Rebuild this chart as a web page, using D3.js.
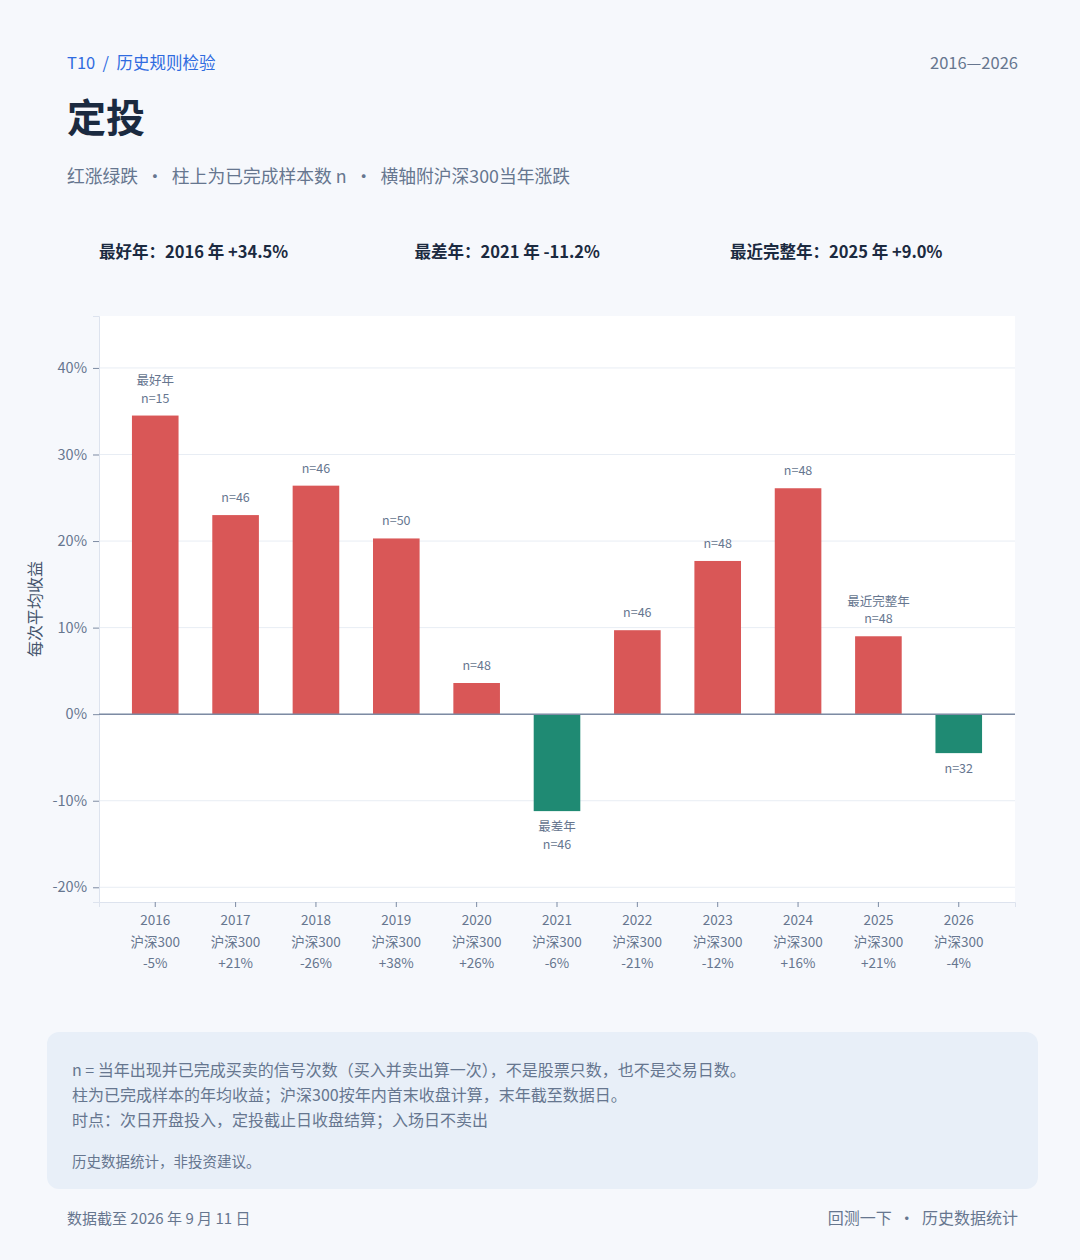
<!DOCTYPE html>
<html>
  <head>
    <meta charset="utf-8">
    <title>定投</title>
    <script src="https://cdn.jsdelivr.net/npm/d3@7/dist/d3.min.js"></script>
    <style>
      html, body { margin: 0; padding: 0; background: #f6f8fc; overflow: hidden; }
      svg { display: block; }
      svg text { font-family: "Noto Sans CJK SC", "Noto Sans", sans-serif; white-space: pre; }
    </style>
  </head>
  <body>
    <svg width="1080" height="1260" id="mainsvg"></svg>
    <script>
        // 数据
        const years = ['2016','2017','2018','2019','2020','2021','2022','2023','2024','2025','2026'];
        const avgReturn = [34.5, 23.0, 26.4, 20.3, 3.6, -11.2, 9.7, 17.7, 26.1, 9.0, -4.5];
        const sampleN = [15, 46, 46, 50, 48, 46, 46, 48, 48, 48, 32];
        const hs300 = ['-5%','+21%','-26%','+38%','+26%','-6%','-21%','-12%','+16%','+21%','-4%'];
        const tags = ['最好年','','','','','最差年','','','','最近完整年',''];
        const yTicks = [-20, -10, 0, 10, 20, 30, 40];
        const stats = ['最好年：2016 年 +34.5%', '最差年：2021 年 -11.2%', '最近完整年：2025 年 +9.0%'];
        const notes = [
            'n = 当年出现并已完成买卖的信号次数（买入并卖出算一次），不是股票只数，也不是交易日数。',
            '柱为已完成样本的年均收益；沪深300按年内首末收盘计算，末年截至数据日。',
            '时点：次日开盘投入，定投截止日收盘结算；入场日不卖出'
        ];

        const svg = d3.select('#mainsvg');
        const margin = {top: 316, right: 65, bottom: 358, left: 99};
        const width = +svg.attr('width');
        const height = +svg.attr('height');
        const innerWidth = width - margin.left - margin.right;
        const innerHeight = height - margin.top - margin.bottom;

        const dark = '#1b2a40', gray = '#66768f', red = '#d95757', green = '#1f8a73';

        // 页眉
        svg.append('text').attr('x', 67).attr('y', 69).attr('fill', '#2f6be0')
            .attr('font-size', 16.5).text('T10  /  历史规则检验');
        svg.append('text').attr('x', 1018).attr('y', 69).attr('fill', gray)
            .attr('font-size', 16.5).attr('text-anchor', 'end').text('2016—2026');
        svg.append('text').attr('x', 67).attr('y', 132).attr('fill', dark)
            .attr('font-size', 39).attr('font-weight', 700).text('定投');
        svg.append('text').attr('x', 67).attr('y', 183).attr('fill', gray)
            .attr('font-size', 17.8).text('红涨绿跌  ·  柱上为已完成样本数 n  ·  横轴附沪深300当年涨跌');

        svg.selectAll('.stat').data(stats).enter().append('text')
            .attr('class', 'stat')
            .attr('x', (d, i) => 99 + i * 315.5)
            .attr('y', 258)
            .attr('fill', dark).attr('font-size', 16.5).attr('font-weight', 700)
            .text(d => d);

        // 画布
        const g = svg.append('g')
            .attr('transform', `translate(${margin.left}, ${margin.top})`)
            .attr('id', 'maingroup');

        g.append('rect').attr('width', innerWidth).attr('height', innerHeight).attr('fill', '#ffffff');

        const x = d3.scaleBand().domain(years).range([0, innerWidth]).paddingInner(0.42).paddingOuter(0.41);
        const y = d3.scaleLinear().domain([-21.7, 46]).range([innerHeight, 0]);

        // 网格
        g.selectAll('.grid').data(yTicks).enter().append('line')
            .attr('x1', 0).attr('x2', innerWidth)
            .attr('y1', d => y(d)).attr('y2', d => y(d))
            .attr('stroke', '#e8edf4').attr('stroke-width', 1);

        // y 轴
        const yAxis = g.append('g').call(d3.axisLeft(y).tickValues(yTicks).tickFormat(d => d + '%').tickSize(6).tickPadding(6));
        yAxis.select('.domain').attr('stroke', '#dde3ee');
        yAxis.selectAll('.tick line').attr('stroke', '#7d8ba3');
        yAxis.selectAll('.tick text').attr('fill', gray).attr('font-size', 14.5)
            .style('font-family', '"Noto Sans CJK SC", sans-serif');

        // x 轴
        const xAxis = g.append('g').attr('transform', `translate(0, ${innerHeight})`)
            .call(d3.axisBottom(x).tickSize(5).tickFormat(''));
        xAxis.select('.domain').attr('stroke', '#dde3ee');
        xAxis.selectAll('.tick line').attr('stroke', '#7d8ba3');
        xAxis.selectAll('.tick').each(function(d, i) {
            const tick = d3.select(this);
            [d, '沪深300', hs300[i]].forEach((s, k) => {
                tick.append('text').attr('fill', gray).attr('font-size', 13.5)
                    .attr('text-anchor', 'middle').style('font-family', '"Noto Sans CJK SC", sans-serif')
                    .attr('x', 0).attr('y', 23 + k * 21.7).text(s);
            });
        });

        // 柱
        g.selectAll('.bar').data(years).enter().append('rect')
            .attr('class', 'bar')
            .attr('x', d => x(d))
            .attr('width', x.bandwidth())
            .attr('y', (d, i) => y(Math.max(0, avgReturn[i])))
            .attr('height', (d, i) => Math.abs(y(avgReturn[i]) - y(0)))
            .attr('fill', (d, i) => avgReturn[i] >= 0 ? red : green);

        // 零线
        g.append('line').attr('x1', 0).attr('x2', innerWidth)
            .attr('y1', y(0)).attr('y2', y(0))
            .attr('stroke', '#7d8ba3').attr('stroke-width', 1.5);

        // 标注
        years.forEach((d, i) => {
            const v = avgReturn[i];
            const cx = x(d) + x.bandwidth() / 2;
            const lines = tags[i] ? [tags[i], 'n=' + sampleN[i]] : ['n=' + sampleN[i]];
            lines.forEach((s, k) => {
                let yy;
                if (v >= 0) yy = y(v) - 13 - (lines.length - 1 - k) * 17.5;
                else yy = y(v) + 20 + k * 17.5;
                g.append('text').attr('fill', gray).attr('font-size', 12.5).attr('text-anchor', 'middle')
                    .attr('x', cx).attr('y', yy).text(s);
            });
        });

        // y 轴标题
        svg.append('text')
            .attr('transform', `translate(41, ${margin.top + innerHeight / 2}) rotate(-90)`)
            .attr('text-anchor', 'middle').attr('fill', '#44546c').attr('font-size', 16)
            .text('每次平均收益');

        // 说明框
        svg.append('rect').attr('x', 47).attr('y', 1032).attr('width', 991).attr('height', 157)
            .attr('rx', 12).attr('fill', '#e8eff8');
        svg.selectAll('.note').data(notes).enter().append('text')
            .attr('x', 72).attr('y', (d, i) => 1076 + i * 25)
            .attr('fill', gray).attr('font-size', 16).text(d => d);
        svg.append('text').attr('x', 72).attr('y', 1167).attr('fill', gray)
            .attr('font-size', 14.5).text('历史数据统计，非投资建议。');

        // 页脚
        svg.append('text').attr('x', 67).attr('y', 1224).attr('fill', gray)
            .attr('font-size', 15).text('数据截至 2026 年 9 月 11 日');
        svg.append('text').attr('x', 1018).attr('y', 1224).attr('fill', gray)
            .attr('font-size', 16).attr('text-anchor', 'end').text('回测一下  ·  历史数据统计');
    </script>
  </body>
</html>
